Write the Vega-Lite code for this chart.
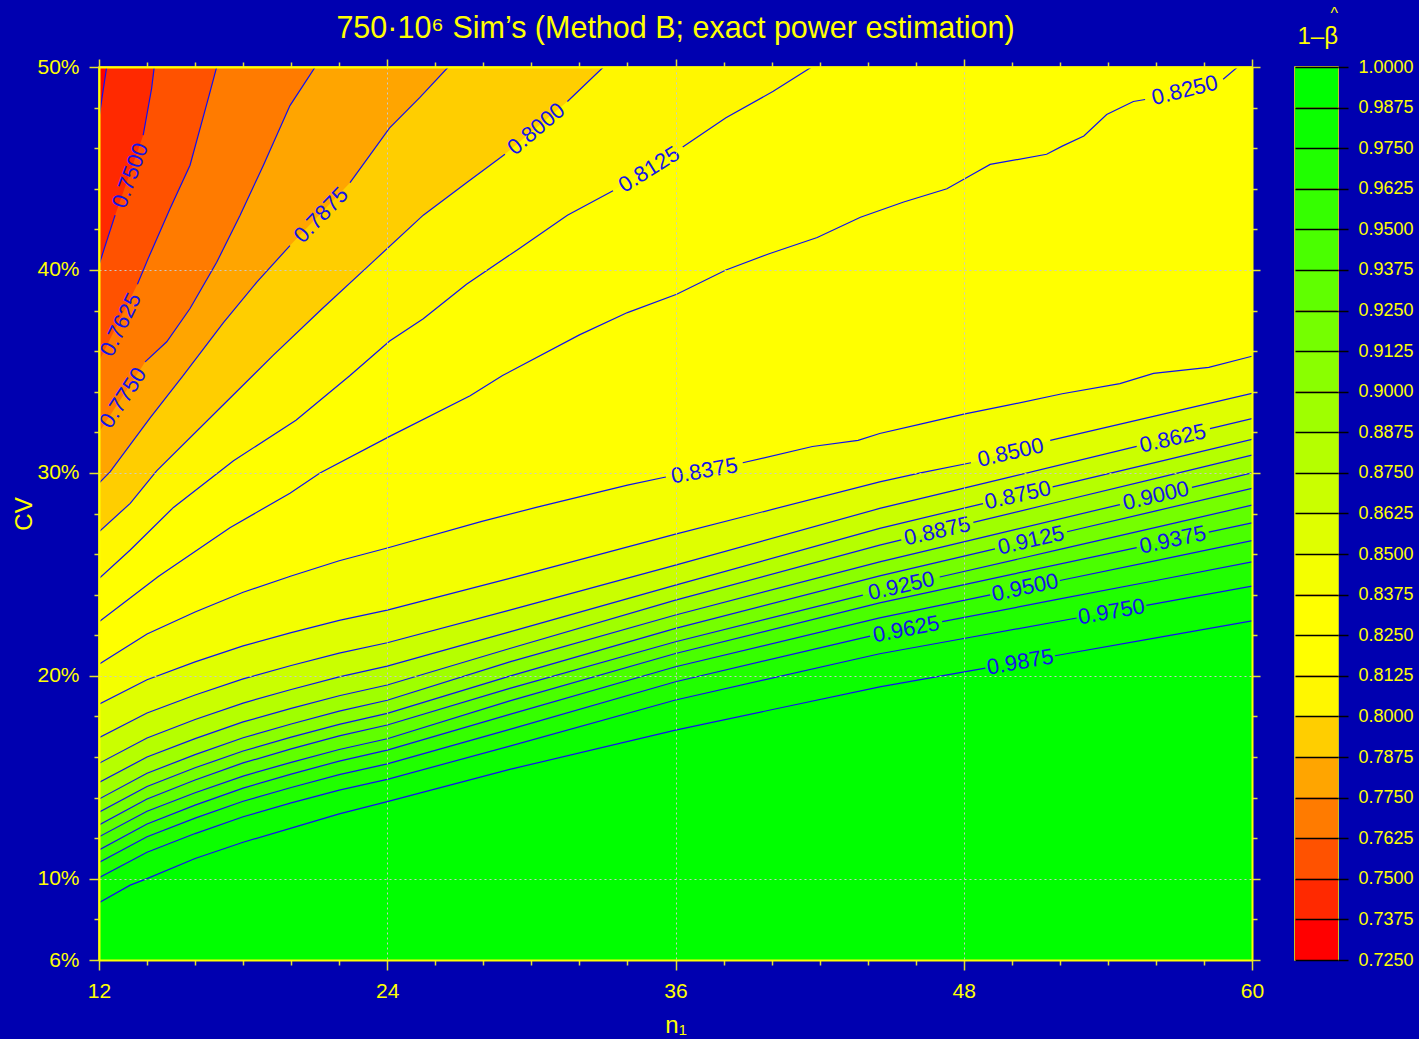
{
  "$schema": "https://vega.github.io/schema/vega-lite/v6.json",
  "background": "#0000B0",
  "padding": {"left": 12, "top": 5, "right": 5, "bottom": 5},
  "config": {
    "font": "Liberation Sans",
    "view": {"stroke": "#FFFF00", "strokeWidth": 1.5, "fill": "#FF0000"},
    "axis": {"labelFont": "Liberation Sans", "titleFont": "Liberation Sans", "labelOverlap": false, "labelFlush": false},
    "title": {"font": "Liberation Sans", "color": "#FFFF00", "fontWeight": "normal"}
  },
  "datasets": {
    "contours": [
      {"level": 0.7375, "n1": 12, "cv": 47.5, "seg": "a"},
      {"level": 0.7375, "n1": 12.32, "cv": 50, "seg": "a"},
      {"level": 0.7375, "n1": 12.6, "cv": 53, "seg": "a"},
      {"level": 0.7375, "n1": 60, "cv": 400, "seg": "a"},

      {"level": 0.75, "n1": 12, "cv": 40.25, "seg": "a"},
      {"level": 0.75, "n1": 12.67, "cv": 42.7, "seg": "a"},
      {"level": 0.75, "n1": 13.84, "cv": 46.64, "seg": "b"},
      {"level": 0.75, "n1": 14.19, "cv": 48.94, "seg": "b"},
      {"level": 0.75, "n1": 14.3, "cv": 50, "seg": "b"},
      {"level": 0.75, "n1": 14.6, "cv": 55, "seg": "b"},
      {"level": 0.75, "n1": 60, "cv": 400, "seg": "b"},

      {"level": 0.7625, "n1": 12, "cv": 35.5, "seg": "a"},
      {"level": 0.7625, "n1": 13.6, "cv": 39.3, "seg": "b"},
      {"level": 0.7625, "n1": 14.05, "cv": 40.57, "seg": "b"},
      {"level": 0.7625, "n1": 14.96, "cv": 43.03, "seg": "b"},
      {"level": 0.7625, "n1": 15.79, "cv": 45.16, "seg": "b"},
      {"level": 0.7625, "n1": 16.55, "cv": 48.45, "seg": "b"},
      {"level": 0.7625, "n1": 16.9, "cv": 50, "seg": "b"},
      {"level": 0.7625, "n1": 17.3, "cv": 55, "seg": "b"},
      {"level": 0.7625, "n1": 60, "cv": 400, "seg": "b"},

      {"level": 0.775, "n1": 12, "cv": 32.0, "seg": "a"},
      {"level": 0.775, "n1": 13.92, "cv": 35.47, "seg": "b"},
      {"level": 0.775, "n1": 14.82, "cv": 36.46, "seg": "b"},
      {"level": 0.775, "n1": 15.79, "cv": 38.1, "seg": "b"},
      {"level": 0.775, "n1": 16.9, "cv": 40.38, "seg": "b"},
      {"level": 0.775, "n1": 17.87, "cv": 42.68, "seg": "b"},
      {"level": 0.775, "n1": 18.84, "cv": 45.15, "seg": "b"},
      {"level": 0.775, "n1": 19.95, "cv": 48.1, "seg": "b"},
      {"level": 0.775, "n1": 21.0, "cv": 50, "seg": "b"},
      {"level": 0.775, "n1": 21.6, "cv": 52, "seg": "b"},
      {"level": 0.775, "n1": 60, "cv": 300, "seg": "b"},

      {"level": 0.7875, "n1": 12, "cv": 29.5, "seg": "a"},
      {"level": 0.7875, "n1": 12.46, "cv": 30.05, "seg": "a"},
      {"level": 0.7875, "n1": 14.12, "cv": 32.7, "seg": "a"},
      {"level": 0.7875, "n1": 15.51, "cv": 34.8, "seg": "a"},
      {"level": 0.7875, "n1": 17.18, "cv": 37.4, "seg": "a"},
      {"level": 0.7875, "n1": 18.57, "cv": 39.4, "seg": "a"},
      {"level": 0.7875, "n1": 19.95, "cv": 41.2, "seg": "a"},
      {"level": 0.7875, "n1": 22.45, "cv": 44.3, "seg": "b"},
      {"level": 0.7875, "n1": 24.1, "cv": 47.0, "seg": "b"},
      {"level": 0.7875, "n1": 25.36, "cv": 48.5, "seg": "b"},
      {"level": 0.7875, "n1": 26.54, "cv": 50, "seg": "b"},
      {"level": 0.7875, "n1": 27.2, "cv": 51, "seg": "b"},
      {"level": 0.7875, "n1": 60, "cv": 120, "seg": "b"},

      {"level": 0.8, "n1": 12, "cv": 27.1, "seg": "a"},
      {"level": 0.8, "n1": 13.3, "cv": 28.5, "seg": "a"},
      {"level": 0.8, "n1": 14.4, "cv": 30.1, "seg": "a"},
      {"level": 0.8, "n1": 17.04, "cv": 33.2, "seg": "a"},
      {"level": 0.8, "n1": 19.26, "cv": 35.8, "seg": "a"},
      {"level": 0.8, "n1": 21.3, "cv": 38.1, "seg": "a"},
      {"level": 0.8, "n1": 23.4, "cv": 40.4, "seg": "a"},
      {"level": 0.8, "n1": 25.5, "cv": 42.7, "seg": "a"},
      {"level": 0.8, "n1": 27.3, "cv": 44.3, "seg": "a"},
      {"level": 0.8, "n1": 28.9, "cv": 45.7, "seg": "a"},
      {"level": 0.8, "n1": 31.5, "cv": 48.3, "seg": "b"},
      {"level": 0.8, "n1": 33.0, "cv": 50, "seg": "b"},
      {"level": 0.8, "n1": 34.0, "cv": 51.1, "seg": "b"},
      {"level": 0.8, "n1": 60, "cv": 80, "seg": "b"},

      {"level": 0.8125, "n1": 12, "cv": 24.8, "seg": "a"},
      {"level": 0.8125, "n1": 13.3, "cv": 26.2, "seg": "a"},
      {"level": 0.8125, "n1": 15.1, "cv": 28.3, "seg": "a"},
      {"level": 0.8125, "n1": 17.6, "cv": 30.6, "seg": "a"},
      {"level": 0.8125, "n1": 20.2, "cv": 32.6, "seg": "a"},
      {"level": 0.8125, "n1": 22.45, "cv": 34.8, "seg": "a"},
      {"level": 0.8125, "n1": 24.1, "cv": 36.5, "seg": "a"},
      {"level": 0.8125, "n1": 25.5, "cv": 37.6, "seg": "a"},
      {"level": 0.8125, "n1": 27.3, "cv": 39.3, "seg": "a"},
      {"level": 0.8125, "n1": 29.5, "cv": 41.06, "seg": "a"},
      {"level": 0.8125, "n1": 31.5, "cv": 42.7, "seg": "a"},
      {"level": 0.8125, "n1": 33.4, "cv": 43.9, "seg": "a"},
      {"level": 0.8125, "n1": 36.3, "cv": 46.06, "seg": "b"},
      {"level": 0.8125, "n1": 38.1, "cv": 47.5, "seg": "b"},
      {"level": 0.8125, "n1": 40.07, "cv": 48.8, "seg": "b"},
      {"level": 0.8125, "n1": 41.67, "cv": 50, "seg": "b"},
      {"level": 0.8125, "n1": 43.0, "cv": 51, "seg": "b"},
      {"level": 0.8125, "n1": 60, "cv": 70, "seg": "b"},

      {"level": 0.825, "n1": 12, "cv": 22.67, "seg": "a"},
      {"level": 0.825, "n1": 14.47, "cv": 24.9, "seg": "a"},
      {"level": 0.825, "n1": 17.45, "cv": 27.3, "seg": "a"},
      {"level": 0.825, "n1": 19.95, "cv": 29.0, "seg": "a"},
      {"level": 0.825, "n1": 21.2, "cv": 30.0, "seg": "a"},
      {"level": 0.825, "n1": 24.1, "cv": 31.8, "seg": "a"},
      {"level": 0.825, "n1": 27.45, "cv": 33.8, "seg": "a"},
      {"level": 0.825, "n1": 28.8, "cv": 34.8, "seg": "a"},
      {"level": 0.825, "n1": 32.0, "cv": 36.8, "seg": "a"},
      {"level": 0.825, "n1": 34.0, "cv": 37.9, "seg": "a"},
      {"level": 0.825, "n1": 36.05, "cv": 38.8, "seg": "a"},
      {"level": 0.825, "n1": 38.1, "cv": 40.0, "seg": "a"},
      {"level": 0.825, "n1": 39.9, "cv": 40.8, "seg": "a"},
      {"level": 0.825, "n1": 41.9, "cv": 41.6, "seg": "a"},
      {"level": 0.825, "n1": 43.7, "cv": 42.6, "seg": "a"},
      {"level": 0.825, "n1": 45.5, "cv": 43.35, "seg": "a"},
      {"level": 0.825, "n1": 47.3, "cv": 44.0, "seg": "a"},
      {"level": 0.825, "n1": 48.5, "cv": 44.8, "seg": "a"},
      {"level": 0.825, "n1": 49.1, "cv": 45.2, "seg": "a"},
      {"level": 0.825, "n1": 51.45, "cv": 45.7, "seg": "a"},
      {"level": 0.825, "n1": 52.1, "cv": 46.1, "seg": "a"},
      {"level": 0.825, "n1": 53.0, "cv": 46.6, "seg": "a"},
      {"level": 0.825, "n1": 53.95, "cv": 47.66, "seg": "a"},
      {"level": 0.825, "n1": 55.06, "cv": 48.3, "seg": "a"},
      {"level": 0.825, "n1": 55.55, "cv": 48.4, "seg": "a"},
      {"level": 0.825, "n1": 58.8, "cv": 49.4, "seg": "b"},
      {"level": 0.825, "n1": 59.4, "cv": 50, "seg": "b"},
      {"level": 0.825, "n1": 60, "cv": 50.6, "seg": "b"},

      {"level": 0.8375, "n1": 12, "cv": 20.57, "seg": "a"},
      {"level": 0.8375, "n1": 14, "cv": 22.06, "seg": "a"},
      {"level": 0.8375, "n1": 16, "cv": 23.15, "seg": "a"},
      {"level": 0.8375, "n1": 18, "cv": 24.12, "seg": "a"},
      {"level": 0.8375, "n1": 20, "cv": 24.92, "seg": "a"},
      {"level": 0.8375, "n1": 22, "cv": 25.67, "seg": "a"},
      {"level": 0.8375, "n1": 24, "cv": 26.3, "seg": "a"},
      {"level": 0.8375, "n1": 27.9, "cv": 27.6, "seg": "a"},
      {"level": 0.8375, "n1": 30.2, "cv": 28.3, "seg": "a"},
      {"level": 0.8375, "n1": 34.0, "cv": 29.4, "seg": "a"},
      {"level": 0.8375, "n1": 35.6, "cv": 29.8, "seg": "a"},
      {"level": 0.8375, "n1": 38.8, "cv": 30.5, "seg": "b"},
      {"level": 0.8375, "n1": 41.7, "cv": 31.3, "seg": "b"},
      {"level": 0.8375, "n1": 43.6, "cv": 31.6, "seg": "b"},
      {"level": 0.8375, "n1": 44.5, "cv": 31.94, "seg": "b"},
      {"level": 0.8375, "n1": 46.2, "cv": 32.4, "seg": "b"},
      {"level": 0.8375, "n1": 48.0, "cv": 32.9, "seg": "b"},
      {"level": 0.8375, "n1": 49.7, "cv": 33.3, "seg": "b"},
      {"level": 0.8375, "n1": 52.1, "cv": 33.9, "seg": "b"},
      {"level": 0.8375, "n1": 54.5, "cv": 34.4, "seg": "b"},
      {"level": 0.8375, "n1": 55.9, "cv": 34.9, "seg": "b"},
      {"level": 0.8375, "n1": 58.2, "cv": 35.2, "seg": "b"},
      {"level": 0.8375, "n1": 60, "cv": 35.75, "seg": "b"},

      {"level": 0.85, "n1": 12, "cv": 18.6, "seg": "a"},
      {"level": 0.85, "n1": 14, "cv": 19.81, "seg": "a"},
      {"level": 0.85, "n1": 16, "cv": 20.69, "seg": "a"},
      {"level": 0.85, "n1": 18, "cv": 21.48, "seg": "a"},
      {"level": 0.85, "n1": 20, "cv": 22.13, "seg": "a"},
      {"level": 0.85, "n1": 22, "cv": 22.73, "seg": "a"},
      {"level": 0.85, "n1": 24, "cv": 23.24, "seg": "a"},
      {"level": 0.85, "n1": 29.1, "cv": 24.8, "seg": "a"},
      {"level": 0.85, "n1": 36, "cv": 26.98, "seg": "a"},
      {"level": 0.85, "n1": 44.5, "cv": 29.56, "seg": "a"},
      {"level": 0.85, "n1": 46.2, "cv": 30.0, "seg": "a"},
      {"level": 0.85, "n1": 48.3, "cv": 30.5, "seg": "a"},
      {"level": 0.85, "n1": 51.6, "cv": 31.6, "seg": "b"},
      {"level": 0.85, "n1": 56.3, "cv": 32.9, "seg": "b"},
      {"level": 0.85, "n1": 60, "cv": 33.92, "seg": "b"},

      {"level": 0.8625, "n1": 12, "cv": 16.95, "seg": "a"},
      {"level": 0.8625, "n1": 14, "cv": 18.17, "seg": "a"},
      {"level": 0.8625, "n1": 16, "cv": 19.06, "seg": "a"},
      {"level": 0.8625, "n1": 18, "cv": 19.85, "seg": "a"},
      {"level": 0.8625, "n1": 20, "cv": 20.51, "seg": "a"},
      {"level": 0.8625, "n1": 22, "cv": 21.12, "seg": "a"},
      {"level": 0.8625, "n1": 24, "cv": 21.63, "seg": "a"},
      {"level": 0.8625, "n1": 29.1, "cv": 23.24, "seg": "a"},
      {"level": 0.8625, "n1": 36, "cv": 25.46, "seg": "a"},
      {"level": 0.8625, "n1": 44.5, "cv": 28.25, "seg": "a"},
      {"level": 0.8625, "n1": 50, "cv": 29.82, "seg": "a"},
      {"level": 0.8625, "n1": 55.2, "cv": 31.31, "seg": "a"},
      {"level": 0.8625, "n1": 58.25, "cv": 32.18, "seg": "b"},
      {"level": 0.8625, "n1": 60, "cv": 32.68, "seg": "b"},

      {"level": 0.875, "n1": 12, "cv": 15.69, "seg": "a"},
      {"level": 0.875, "n1": 14, "cv": 16.94, "seg": "a"},
      {"level": 0.875, "n1": 16, "cv": 17.85, "seg": "a"},
      {"level": 0.875, "n1": 18, "cv": 18.66, "seg": "a"},
      {"level": 0.875, "n1": 20, "cv": 19.33, "seg": "a"},
      {"level": 0.875, "n1": 22, "cv": 19.95, "seg": "a"},
      {"level": 0.875, "n1": 24, "cv": 20.48, "seg": "a"},
      {"level": 0.875, "n1": 29.1, "cv": 22.17, "seg": "a"},
      {"level": 0.875, "n1": 36, "cv": 24.47, "seg": "a"},
      {"level": 0.875, "n1": 44.5, "cv": 27.27, "seg": "a"},
      {"level": 0.875, "n1": 48.8, "cv": 28.49, "seg": "a"},
      {"level": 0.875, "n1": 51.7, "cv": 29.31, "seg": "b"},
      {"level": 0.875, "n1": 56, "cv": 30.52, "seg": "b"},
      {"level": 0.875, "n1": 60, "cv": 31.65, "seg": "b"},

      {"level": 0.8875, "n1": 12, "cv": 14.75, "seg": "a"},
      {"level": 0.8875, "n1": 14, "cv": 16.0, "seg": "a"},
      {"level": 0.8875, "n1": 16, "cv": 16.91, "seg": "a"},
      {"level": 0.8875, "n1": 18, "cv": 17.73, "seg": "a"},
      {"level": 0.8875, "n1": 20, "cv": 18.4, "seg": "a"},
      {"level": 0.8875, "n1": 22, "cv": 19.02, "seg": "a"},
      {"level": 0.8875, "n1": 24, "cv": 19.55, "seg": "a"},
      {"level": 0.8875, "n1": 29.1, "cv": 21.35, "seg": "a"},
      {"level": 0.8875, "n1": 36, "cv": 23.73, "seg": "a"},
      {"level": 0.8875, "n1": 44.5, "cv": 26.44, "seg": "a"},
      {"level": 0.8875, "n1": 45.4, "cv": 26.7, "seg": "a"},
      {"level": 0.8875, "n1": 48.4, "cv": 27.56, "seg": "b"},
      {"level": 0.8875, "n1": 52, "cv": 28.59, "seg": "b"},
      {"level": 0.8875, "n1": 56, "cv": 29.73, "seg": "b"},
      {"level": 0.8875, "n1": 60, "cv": 30.88, "seg": "b"},

      {"level": 0.9, "n1": 12, "cv": 13.93, "seg": "a"},
      {"level": 0.9, "n1": 14, "cv": 15.2, "seg": "a"},
      {"level": 0.9, "n1": 16, "cv": 16.12, "seg": "a"},
      {"level": 0.9, "n1": 18, "cv": 16.95, "seg": "a"},
      {"level": 0.9, "n1": 20, "cv": 17.63, "seg": "a"},
      {"level": 0.9, "n1": 22, "cv": 18.26, "seg": "a"},
      {"level": 0.9, "n1": 24, "cv": 18.8, "seg": "a"},
      {"level": 0.9, "n1": 29.1, "cv": 20.69, "seg": "a"},
      {"level": 0.9, "n1": 36, "cv": 23.0, "seg": "a"},
      {"level": 0.9, "n1": 44.5, "cv": 25.62, "seg": "a"},
      {"level": 0.9, "n1": 50, "cv": 27.17, "seg": "a"},
      {"level": 0.9, "n1": 54.5, "cv": 28.44, "seg": "a"},
      {"level": 0.9, "n1": 57.5, "cv": 29.29, "seg": "b"},
      {"level": 0.9, "n1": 60, "cv": 30.0, "seg": "b"},

      {"level": 0.9125, "n1": 12, "cv": 13.28, "seg": "a"},
      {"level": 0.9125, "n1": 14, "cv": 14.55, "seg": "a"},
      {"level": 0.9125, "n1": 16, "cv": 15.47, "seg": "a"},
      {"level": 0.9125, "n1": 18, "cv": 16.3, "seg": "a"},
      {"level": 0.9125, "n1": 20, "cv": 16.98, "seg": "a"},
      {"level": 0.9125, "n1": 22, "cv": 17.61, "seg": "a"},
      {"level": 0.9125, "n1": 24, "cv": 18.15, "seg": "a"},
      {"level": 0.9125, "n1": 29.1, "cv": 19.99, "seg": "a"},
      {"level": 0.9125, "n1": 36, "cv": 22.34, "seg": "a"},
      {"level": 0.9125, "n1": 44.5, "cv": 24.93, "seg": "a"},
      {"level": 0.9125, "n1": 49.3, "cv": 26.26, "seg": "a"},
      {"level": 0.9125, "n1": 52.3, "cv": 27.1, "seg": "b"},
      {"level": 0.9125, "n1": 56, "cv": 28.13, "seg": "b"},
      {"level": 0.9125, "n1": 60, "cv": 29.24, "seg": "b"},

      {"level": 0.925, "n1": 12, "cv": 12.65, "seg": "a"},
      {"level": 0.925, "n1": 14, "cv": 13.93, "seg": "a"},
      {"level": 0.925, "n1": 16, "cv": 14.87, "seg": "a"},
      {"level": 0.925, "n1": 18, "cv": 15.71, "seg": "a"},
      {"level": 0.925, "n1": 20, "cv": 16.4, "seg": "a"},
      {"level": 0.925, "n1": 22, "cv": 17.04, "seg": "a"},
      {"level": 0.925, "n1": 24, "cv": 17.58, "seg": "a"},
      {"level": 0.925, "n1": 29.1, "cv": 19.38, "seg": "a"},
      {"level": 0.925, "n1": 36, "cv": 21.68, "seg": "a"},
      {"level": 0.925, "n1": 43.8, "cv": 23.98, "seg": "a"},
      {"level": 0.925, "n1": 47, "cv": 24.87, "seg": "b"},
      {"level": 0.925, "n1": 52, "cv": 26.23, "seg": "b"},
      {"level": 0.925, "n1": 56, "cv": 27.32, "seg": "b"},
      {"level": 0.925, "n1": 60, "cv": 28.41, "seg": "b"},

      {"level": 0.9375, "n1": 12, "cv": 12.07, "seg": "a"},
      {"level": 0.9375, "n1": 14, "cv": 13.33, "seg": "a"},
      {"level": 0.9375, "n1": 16, "cv": 14.24, "seg": "a"},
      {"level": 0.9375, "n1": 18, "cv": 15.06, "seg": "a"},
      {"level": 0.9375, "n1": 20, "cv": 15.74, "seg": "a"},
      {"level": 0.9375, "n1": 22, "cv": 16.37, "seg": "a"},
      {"level": 0.9375, "n1": 24, "cv": 16.9, "seg": "a"},
      {"level": 0.9375, "n1": 29.1, "cv": 18.77, "seg": "a"},
      {"level": 0.9375, "n1": 36, "cv": 21.1, "seg": "a"},
      {"level": 0.9375, "n1": 44.5, "cv": 23.6, "seg": "a"},
      {"level": 0.9375, "n1": 50, "cv": 25.0, "seg": "a"},
      {"level": 0.9375, "n1": 55.2, "cv": 26.32, "seg": "a"},
      {"level": 0.9375, "n1": 58.2, "cv": 27.08, "seg": "b"},
      {"level": 0.9375, "n1": 60, "cv": 27.54, "seg": "b"},

      {"level": 0.95, "n1": 12, "cv": 11.42, "seg": "a"},
      {"level": 0.95, "n1": 14, "cv": 12.7, "seg": "a"},
      {"level": 0.95, "n1": 16, "cv": 13.63, "seg": "a"},
      {"level": 0.95, "n1": 18, "cv": 14.47, "seg": "a"},
      {"level": 0.95, "n1": 20, "cv": 15.16, "seg": "a"},
      {"level": 0.95, "n1": 22, "cv": 15.8, "seg": "a"},
      {"level": 0.95, "n1": 24, "cv": 16.34, "seg": "a"},
      {"level": 0.95, "n1": 29.1, "cv": 18.1, "seg": "a"},
      {"level": 0.95, "n1": 36, "cv": 20.45, "seg": "a"},
      {"level": 0.95, "n1": 44.5, "cv": 22.86, "seg": "a"},
      {"level": 0.95, "n1": 49.1, "cv": 23.99, "seg": "a"},
      {"level": 0.95, "n1": 52, "cv": 24.7, "seg": "b"},
      {"level": 0.95, "n1": 56, "cv": 25.68, "seg": "b"},
      {"level": 0.95, "n1": 60, "cv": 26.66, "seg": "b"},

      {"level": 0.9625, "n1": 12, "cv": 10.81, "seg": "a"},
      {"level": 0.9625, "n1": 14, "cv": 12.07, "seg": "a"},
      {"level": 0.9625, "n1": 16, "cv": 12.99, "seg": "a"},
      {"level": 0.9625, "n1": 18, "cv": 13.82, "seg": "a"},
      {"level": 0.9625, "n1": 20, "cv": 14.5, "seg": "a"},
      {"level": 0.9625, "n1": 22, "cv": 15.13, "seg": "a"},
      {"level": 0.9625, "n1": 24, "cv": 15.66, "seg": "a"},
      {"level": 0.9625, "n1": 29.1, "cv": 17.36, "seg": "a"},
      {"level": 0.9625, "n1": 36, "cv": 19.71, "seg": "a"},
      {"level": 0.9625, "n1": 44.1, "cv": 21.96, "seg": "a"},
      {"level": 0.9625, "n1": 47.1, "cv": 22.67, "seg": "b"},
      {"level": 0.9625, "n1": 52, "cv": 23.79, "seg": "b"},
      {"level": 0.9625, "n1": 56, "cv": 24.7, "seg": "b"},
      {"level": 0.9625, "n1": 60, "cv": 25.62, "seg": "b"},

      {"level": 0.975, "n1": 12, "cv": 10.05, "seg": "a"},
      {"level": 0.975, "n1": 14, "cv": 11.31, "seg": "a"},
      {"level": 0.975, "n1": 16, "cv": 12.23, "seg": "a"},
      {"level": 0.975, "n1": 18, "cv": 13.06, "seg": "a"},
      {"level": 0.975, "n1": 20, "cv": 13.74, "seg": "a"},
      {"level": 0.975, "n1": 22, "cv": 14.37, "seg": "a"},
      {"level": 0.975, "n1": 24, "cv": 14.9, "seg": "a"},
      {"level": 0.975, "n1": 29.1, "cv": 16.54, "seg": "a"},
      {"level": 0.975, "n1": 36, "cv": 18.81, "seg": "a"},
      {"level": 0.975, "n1": 44.5, "cv": 21.09, "seg": "a"},
      {"level": 0.975, "n1": 48, "cv": 21.84, "seg": "a"},
      {"level": 0.975, "n1": 52.7, "cv": 22.85, "seg": "a"},
      {"level": 0.975, "n1": 55.6, "cv": 23.47, "seg": "b"},
      {"level": 0.975, "n1": 60, "cv": 24.42, "seg": "b"},

      {"level": 0.9875, "n1": 12, "cv": 8.82, "seg": "a"},
      {"level": 0.9875, "n1": 13.3, "cv": 9.69, "seg": "a"},
      {"level": 0.9875, "n1": 14, "cv": 10.01, "seg": "a"},
      {"level": 0.9875, "n1": 16, "cv": 11.0, "seg": "a"},
      {"level": 0.9875, "n1": 18, "cv": 11.8, "seg": "a"},
      {"level": 0.9875, "n1": 20, "cv": 12.5, "seg": "a"},
      {"level": 0.9875, "n1": 22, "cv": 13.2, "seg": "a"},
      {"level": 0.9875, "n1": 24, "cv": 13.8, "seg": "a"},
      {"level": 0.9875, "n1": 29.1, "cv": 15.39, "seg": "a"},
      {"level": 0.9875, "n1": 36, "cv": 17.33, "seg": "a"},
      {"level": 0.9875, "n1": 44.5, "cv": 19.46, "seg": "a"},
      {"level": 0.9875, "n1": 48.9, "cv": 20.38, "seg": "a"},
      {"level": 0.9875, "n1": 51.8, "cv": 20.99, "seg": "b"},
      {"level": 0.9875, "n1": 56, "cv": 21.87, "seg": "b"},
      {"level": 0.9875, "n1": 60, "cv": 22.71, "seg": "b"}
    ],
    "labels": [
      {"level": 0.75, "n1": 13.3, "cv": 44.65, "angle": -70},
      {"level": 0.7625, "n1": 12.9, "cv": 37.3, "angle": -64},
      {"level": 0.775, "n1": 13.0, "cv": 33.7, "angle": -57},
      {"level": 0.7875, "n1": 21.25, "cv": 42.7, "angle": -46},
      {"level": 0.8, "n1": 30.2, "cv": 46.95, "angle": -40},
      {"level": 0.8125, "n1": 34.9, "cv": 44.95, "angle": -32},
      {"level": 0.825, "n1": 57.2, "cv": 48.85, "angle": -14},
      {"level": 0.8375, "n1": 37.2, "cv": 30.1, "angle": -10},
      {"level": 0.85, "n1": 49.95, "cv": 31.0, "angle": -13},
      {"level": 0.8625, "n1": 56.7, "cv": 31.7, "angle": -13},
      {"level": 0.875, "n1": 50.25, "cv": 28.9, "angle": -13},
      {"level": 0.8875, "n1": 46.9, "cv": 27.13, "angle": -13},
      {"level": 0.9, "n1": 56.0, "cv": 28.87, "angle": -13},
      {"level": 0.9125, "n1": 50.8, "cv": 26.68, "angle": -13},
      {"level": 0.925, "n1": 45.4, "cv": 24.43, "angle": -13},
      {"level": 0.9375, "n1": 56.7, "cv": 26.7, "angle": -12},
      {"level": 0.95, "n1": 50.55, "cv": 24.35, "angle": -12},
      {"level": 0.9625, "n1": 45.6, "cv": 22.3, "angle": -11},
      {"level": 0.975, "n1": 54.15, "cv": 23.16, "angle": -10},
      {"level": 0.9875, "n1": 50.35, "cv": 20.68, "angle": -10}
    ],
    "bands": [
      {"lo": 0.725, "hi": 0.7375}, {"lo": 0.7375, "hi": 0.75}, {"lo": 0.75, "hi": 0.7625},
      {"lo": 0.7625, "hi": 0.775}, {"lo": 0.775, "hi": 0.7875}, {"lo": 0.7875, "hi": 0.8},
      {"lo": 0.8, "hi": 0.8125}, {"lo": 0.8125, "hi": 0.825}, {"lo": 0.825, "hi": 0.8375},
      {"lo": 0.8375, "hi": 0.85}, {"lo": 0.85, "hi": 0.8625}, {"lo": 0.8625, "hi": 0.875},
      {"lo": 0.875, "hi": 0.8875}, {"lo": 0.8875, "hi": 0.9}, {"lo": 0.9, "hi": 0.9125},
      {"lo": 0.9125, "hi": 0.925}, {"lo": 0.925, "hi": 0.9375}, {"lo": 0.9375, "hi": 0.95},
      {"lo": 0.95, "hi": 0.9625}, {"lo": 0.9625, "hi": 0.975}, {"lo": 0.975, "hi": 0.9875},
      {"lo": 0.9875, "hi": 1.0}
    ]
  },
  "hconcat": [
    {
      "width": 1153,
      "height": 893,
      "title": {"text": "750·10⁶ Sim’s (Method B; exact power estimation)", "fontSize": 30.5, "offset": 12},
      "layer": [
        {
          "data": {"name": "contours"},
          "mark": {"type": "area", "clip": true, "interpolate": "linear"},
          "encoding": {
            "x": {
              "field": "n1", "type": "quantitative",
              "scale": {"domain": [12, 60], "nice": false, "zero": false},
              "axis": {
                "orient": "bottom",
                "values": [12,14,16,18,20,22,24,26,28,30,32,34,36,38,40,42,44,46,48,50,52,54,56,58,60],
                "labelExpr": "datum.value % 12 === 0 ? datum.label : ''",
                "labelColor": "#FFFF00", "labelFontSize": 21, "labelPadding": 10,
                "tickSize": {"condition": {"test": "datum.value % 12 === 0", "value": 10}, "value": 5},
                "tickColor": "#E0E030", "tickWidth": 1.5,
                "domainColor": "#FFFF00", "domainWidth": 2,
                "grid": true, "gridColor": "#C8C8C8", "gridDash": [2, 3], "gridWidth": 1,
                "gridOpacity": {"condition": {"test": "datum.value % 12 === 0 && datum.value > 12 && datum.value < 60", "value": 1}, "value": 0},
                "title": "n₁", "titleColor": "#FFFF00", "titleFontSize": 24, "titleFontWeight": "normal", "titlePadding": 12,
                "zindex": 1
              }
            },
            "y": {
              "field": "cv", "type": "quantitative", "stack": null,
              "scale": {"domain": [6, 50], "nice": false, "zero": false},
              "axis": {
                "orient": "left",
                "values": [6,8,10,12,14,16,18,20,22,24,26,28,30,32,34,36,38,40,42,44,46,48,50],
                "labelExpr": "(datum.value % 10 === 0 || datum.value === 6) ? datum.value + '%' : ''",
                "labelColor": "#FFFF00", "labelFontSize": 21, "labelPadding": 10,
                "tickSize": {"condition": {"test": "datum.value % 10 === 0 || datum.value === 6", "value": 10}, "value": 5},
                "tickColor": "#E0E030", "tickWidth": 1.5,
                "domainColor": "#FFFF00", "domainWidth": 2,
                "grid": true, "gridColor": "#C8C8C8", "gridDash": [2, 3], "gridWidth": 1,
                "gridOpacity": {"condition": {"test": "datum.value % 10 === 0 && datum.value < 50", "value": 1}, "value": 0},
                "title": "CV", "titleColor": "#FFFF00", "titleFontSize": 24, "titleFontWeight": "normal", "titlePadding": 0,
                "zindex": 1
              }
            },
            "y2": {"datum": 6},
            "color": {
              "field": "level", "type": "quantitative", "legend": null,
              "scale": {"domain": [0.725, 0.8025, 0.83125, 0.98125], "range": ["#FF0000", "#FFFF00", "#FFFF00", "#00FF00"], "interpolate": "rgb", "clamp": true}
            },
            "detail": {"field": "level"}
          }
        },
        {
          "data": {"name": "contours"},
          "mark": {"type": "line", "clip": true, "color": "#1010F0", "strokeWidth": 1.2},
          "encoding": {
            "x": {"field": "n1", "type": "quantitative", "scale": {"domain": [12, 60], "nice": false, "zero": false}, "axis": null},
            "y": {"field": "cv", "type": "quantitative", "scale": {"domain": [6, 50], "nice": false, "zero": false}, "axis": null},
            "detail": [{"field": "level"}, {"field": "seg"}]
          }
        },
        {
          "data": {"name": "labels"},
          "mark": {"type": "text", "color": "#1414E6", "fontSize": 22, "font": "Liberation Sans", "align": "center", "baseline": "middle"},
          "encoding": {
            "x": {
              "field": "n1", "type": "quantitative",
              "scale": {"domain": [12, 60], "nice": false, "zero": false},
              "axis": {
                "orient": "top",
                "values": [12,14,16,18,20,22,24,26,28,30,32,34,36,38,40,42,44,46,48,50,52,54,56,58,60],
                "labels": false, "title": null, "grid": false,
                "tickSize": {"condition": {"test": "datum.value % 12 === 0", "value": 8}, "value": 5},
                "tickColor": "#E0E030", "tickWidth": 1.5,
                "domainColor": "#FFFF00", "domainWidth": 2, "zindex": 1
              }
            },
            "y": {
              "field": "cv", "type": "quantitative",
              "scale": {"domain": [6, 50], "nice": false, "zero": false},
              "axis": {
                "orient": "right",
                "values": [6,8,10,12,14,16,18,20,22,24,26,28,30,32,34,36,38,40,42,44,46,48,50],
                "labels": false, "title": null, "grid": false,
                "tickSize": {"condition": {"test": "datum.value % 10 === 0 || datum.value === 6", "value": 8}, "value": 5},
                "tickColor": "#E0E030", "tickWidth": 1.5,
                "domainColor": "#FFFF00", "domainWidth": 2, "zindex": 1
              }
            },
            "text": {"field": "level", "type": "quantitative", "format": ".4f"},
            "angle": {"field": "angle", "type": "quantitative", "scale": null}
          }
        }
      ],
      "resolve": {"axis": {"x": "independent", "y": "independent"}}
    },
    {
      "width": 43,
      "height": 893,
      "title": {
        "text": "^",
        "fontSize": 16,
        "anchor": "end",
        "frame": "group",
        "subtitle": "1–β",
        "subtitleFontSize": 24,
        "subtitleColor": "#FFFF00",
        "subtitleFont": "Liberation Sans",
        "subtitlePadding": 3,
        "offset": 9
      },
      "data": {"name": "bands"},
      "mark": {"type": "rect"},
      "encoding": {
        "y": {
          "field": "lo", "type": "quantitative",
          "scale": {"domain": [0.725, 1.0], "nice": false, "zero": false},
          "axis": {
            "orient": "right",
            "values": [0.725,0.7375,0.75,0.7625,0.775,0.7875,0.8,0.8125,0.825,0.8375,0.85,0.8625,0.875,0.8875,0.9,0.9125,0.925,0.9375,0.95,0.9625,0.975,0.9875,1.0],
            "format": ".4f",
            "labelColor": "#FFFF00", "labelFontSize": 18, "labelPadding": 10,
            "tickColor": "#000000", "tickSize": 10, "tickWidth": 1.5,
            "domain": false,
            "grid": true, "gridColor": "#000000", "gridWidth": 1.5, "gridOpacity": 1,
            "title": null, "zindex": 1
          }
        },
        "y2": {"field": "hi"},
        "color": {
          "field": "lo", "type": "quantitative", "legend": null,
          "scale": {"domain": [0.725, 0.8025, 0.83125, 0.98125], "range": ["#FF0000", "#FFFF00", "#FFFF00", "#00FF00"], "interpolate": "rgb", "clamp": true}
        }
      }
    }
  ],
  "spacing": 29
}
